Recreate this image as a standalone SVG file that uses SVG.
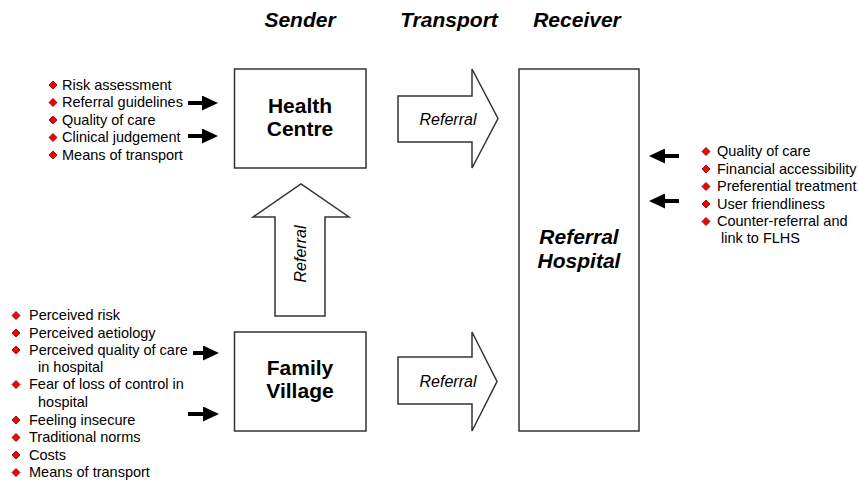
<svg xmlns="http://www.w3.org/2000/svg" width="858" height="481" viewBox="0 0 858 481">
<style>
.box{fill:#fff;stroke:#333;stroke-width:1.5}
.big{font-family:"Liberation Sans",Arial,sans-serif;font-weight:bold;font-size:21px;text-anchor:middle;fill:#000}
.bi{font-family:"Liberation Sans",Arial,sans-serif;font-weight:bold;font-style:italic;font-size:21px;text-anchor:middle;fill:#000}
.ref{font-family:"Liberation Sans",Arial,sans-serif;font-style:italic;font-size:16px;text-anchor:middle;fill:#000}
.li{font-family:"Liberation Sans",Arial,sans-serif;font-size:14.5px;fill:#000}
.arr{stroke:#000;stroke-width:4;fill:none;marker-end:url(#ah)}
</style>
<defs>
<marker id="ah" markerUnits="userSpaceOnUse" markerWidth="16" markerHeight="15" refX="4" refY="7.5" orient="auto"><path d="M0,0 L16,7.5 L0,15 Z" fill="#000"/></marker>
<path id="dm" d="M0,-4 L4,0 L0,4 L-4,0 Z" fill="#ff0000" stroke="#600" stroke-width="0.8"/>
</defs>
<rect width="858" height="481" fill="#fff"/>

<g id="headers">
<text class="bi" x="300" y="27">Sender</text>
<text class="bi" x="449" y="27">Transport</text>
<text class="bi" x="577" y="27">Receiver</text>
</g>

<g id="health-centre">
<rect class="box" x="234.5" y="69" width="131.5" height="99"/>
<text class="big" x="300" y="112.5">Health</text>
<text class="big" x="300" y="135.5">Centre</text>
</g>

<g id="family-village">
<rect class="box" x="234.5" y="332" width="131.5" height="99"/>
<text class="big" x="300" y="375">Family</text>
<text class="big" x="300" y="398">Village</text>
</g>

<g id="referral-hospital">
<rect class="box" x="519" y="69" width="120" height="362"/>
<text class="bi" x="579" y="244">Referral</text>
<text class="bi" x="579" y="268">Hospital</text>
</g>

<g id="connectors">
<g id="referral-top">
<path class="box" d="M398,96 L472,96 L472,69 L498,118.5 L472,168 L472,142 L398,142 Z"/>
<text class="ref" x="448" y="125">Referral</text>
</g>
<g id="referral-bottom">
<path class="box" d="M398,357 L472,357 L472,332 L497,381.5 L472,431 L472,404 L398,404 Z"/>
<text class="ref" x="448" y="387">Referral</text>
</g>
<g id="referral-up">
<path class="box" d="M275,316 L275,217 L253,217 L301,184 L349,217 L325,217 L325,316 Z"/>
<text class="ref" transform="translate(306,254) rotate(-90)" x="0" y="0">Referral</text>
</g>
<line class="arr" x1="188" y1="103" x2="206" y2="103"/>
<line class="arr" x1="188" y1="136" x2="206" y2="136"/>
<line class="arr" x1="193" y1="353" x2="207" y2="353"/>
<line class="arr" x1="188" y1="414" x2="207" y2="414"/>
<line class="arr" x1="679" y1="156" x2="661" y2="156"/>
<line class="arr" x1="679" y1="201" x2="661" y2="201"/>
</g>

<g id="list-health-centre">
<use href="#dm" x="53" y="85"/><text class="li" x="62" y="89.5">Risk assessment</text>
<use href="#dm" x="53" y="102.5"/><text class="li" x="62" y="107">Referral guidelines</text>
<use href="#dm" x="53" y="120"/><text class="li" x="62" y="124.5">Quality of care</text>
<use href="#dm" x="53" y="137.5"/><text class="li" x="62" y="142">Clinical judgement</text>
<use href="#dm" x="53" y="155"/><text class="li" x="62" y="159.5">Means of transport</text>
</g>

<g id="list-family-village">
<use href="#dm" x="16" y="315.5"/><text class="li" x="29" y="320">Perceived risk</text>
<use href="#dm" x="16" y="333"/><text class="li" x="29" y="337.5">Perceived aetiology</text>
<use href="#dm" x="16" y="350"/><text class="li" x="29" y="354.5">Perceived quality of care</text>
<text class="li" x="38" y="372">in hospital</text>
<use href="#dm" x="16" y="384.5"/><text class="li" x="29" y="389">Fear of loss of control in</text>
<text class="li" x="38" y="406.5">hospital</text>
<use href="#dm" x="16" y="420"/><text class="li" x="29" y="424.5">Feeling insecure</text>
<use href="#dm" x="16" y="437.5"/><text class="li" x="29" y="442">Traditional norms</text>
<use href="#dm" x="16" y="455"/><text class="li" x="29" y="459.5">Costs</text>
<use href="#dm" x="16" y="472.5"/><text class="li" x="29" y="477">Means of transport</text>
</g>

<g id="list-referral-hospital">
<use href="#dm" x="706" y="151.5"/><text class="li" x="717" y="156">Quality of care</text>
<use href="#dm" x="706" y="169"/><text class="li" x="717" y="173.5">Financial accessibility</text>
<use href="#dm" x="706" y="186.5"/><text class="li" x="717" y="191">Preferential treatment</text>
<use href="#dm" x="706" y="204"/><text class="li" x="717" y="208.5">User friendliness</text>
<use href="#dm" x="706" y="221.5"/><text class="li" x="717" y="226">Counter-referral and</text>
<text class="li" x="721" y="243">link to FLHS</text>
</g>
</svg>
